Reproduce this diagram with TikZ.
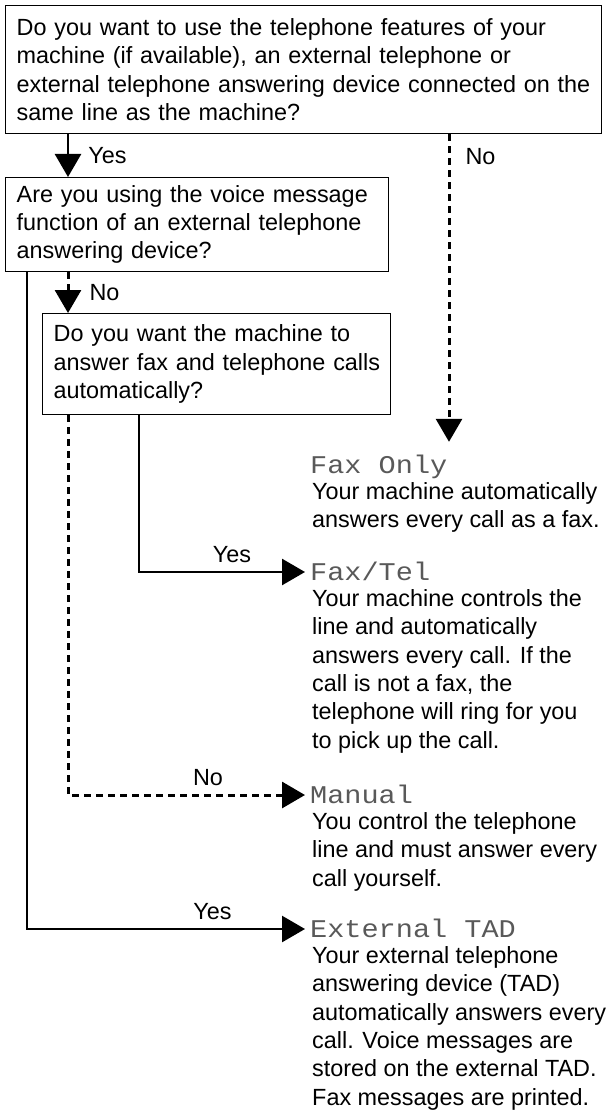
\documentclass[tikz,border=0pt]{standalone}
\usepackage{fontspec}
\setmainfont{Liberation Sans}
\newfontfamily\lcdfont[FakeStretch=1.12]{Liberation Mono}
\usetikzlibrary{arrows.meta}

\begin{document}
\begin{tikzpicture}[x=1pt,y=-1pt,>={Triangle[length=23pt,width=26pt]},
	every node/.style={font=\fontsize{23.4}{28.3}\selectfont},
	qbox/.style={draw,line width=1.3pt,anchor=north west,align=left,inner xsep=11pt,inner ysep=0pt},
	lbl/.style={inner sep=0pt},
	lcd/.style={font=\lcdfont\fontsize{25.5}{28}\selectfont,text=black!65,anchor=base west,inner sep=3pt,text height=17pt,text depth=0pt},
	desc/.style={anchor=base west,align=left,inner sep=0pt},% base = last line
	yesline/.style={->,line width=2.6pt},
	noline/.style={->,line width=3pt,dash pattern=on 7pt off 5pt}]
		\useasboundingbox (0,0) rectangle (609,1115);
		%\draw[help lines,step=50] (0,0) grid (609,1115);
		
		% questions
		\node[qbox,text width=574pt,minimum height=128pt] (q1) at (5,5) {Do you want to use the telephone features of your\\machine (if available), an external telephone or\\external telephone answering device connected on the\\same line as the machine?};
		\node[qbox,text width=361pt,minimum height=94pt] (q2) at (5,177) {Are you using the voice message\\function of an external telephone\\answering device?};
		\node[qbox,text width=326pt,minimum height=101pt] (q3) at (42,313) {Do you want the machine to\\\mbox{answer fax and telephone calls}\\automatically?};
		
		% modes
		\node[lcd] (faxonly) at (307,473) {Fax Only};
		\node[desc] (faxonlytxt) at (312,527.3) {Your machine automatically\\answers every call as a fax.};
		
		\node[lcd] (faxtel) at (307,580.5) {Fax/Tel};
		\node[desc] (faxteltxt) at (312,748) {Your machine controls the\\line and automatically\\answers every call. If the\\call is not a fax, the\\telephone will ring for you\\to pick up the call.};
		
		\node[lcd] (manual) at (307,803.5) {Manual};
		\node[desc] (manualtxt) at (312,886.1) {You control the telephone\\line and must answer every\\call yourself.};
		
		\node[lcd] (tad) at (307,937.5) {External TAD};
		\node[desc] (tadtxt) at (312,1105) {Your external telephone\\answering device (TAD)\\automatically answers every\\call. Voice messages are\\stored on the external TAD.\\Fax messages are printed.};
		
		% columns of the lines
		\coordinate (xtad) at (27,0);
		\coordinate (xyes) at (68,0);
		\coordinate (xtel) at (139,0);
		\coordinate (xno) at (449,0);
		
		\draw[yesline] (q1.south -| xyes) -- (q2.north -| xyes) node[lbl,midway,right=19pt] (yes1) {Yes};
		\draw[noline,shorten >=11pt] (q1.south -| xno) -- (faxonly.north -| xno) node[lbl,pos=0.07,right=15pt] (no1) {No};
		\draw[noline] (q2.south -| xyes) -- (q3.north -| xyes) node[lbl,midway,right=20pt] (no2) {No};
		\draw[yesline,shorten >=2pt] (q3.south -| xtel) |- (faxtel.west) node[lbl,pos=0.777,above=8pt] (yes3) {Yes};
		\draw[noline,shorten >=2pt] (q3.south -| xyes) |- (manual.west) node[lbl,pos=0.793,above=8pt] (no3) {No};
		\draw[yesline,shorten >=2pt] (q2.south -| xtad) |- (tad.west) node[lbl,pos=0.831,above=8pt] (yes2) {Yes};
\end{tikzpicture}
\end{document}
